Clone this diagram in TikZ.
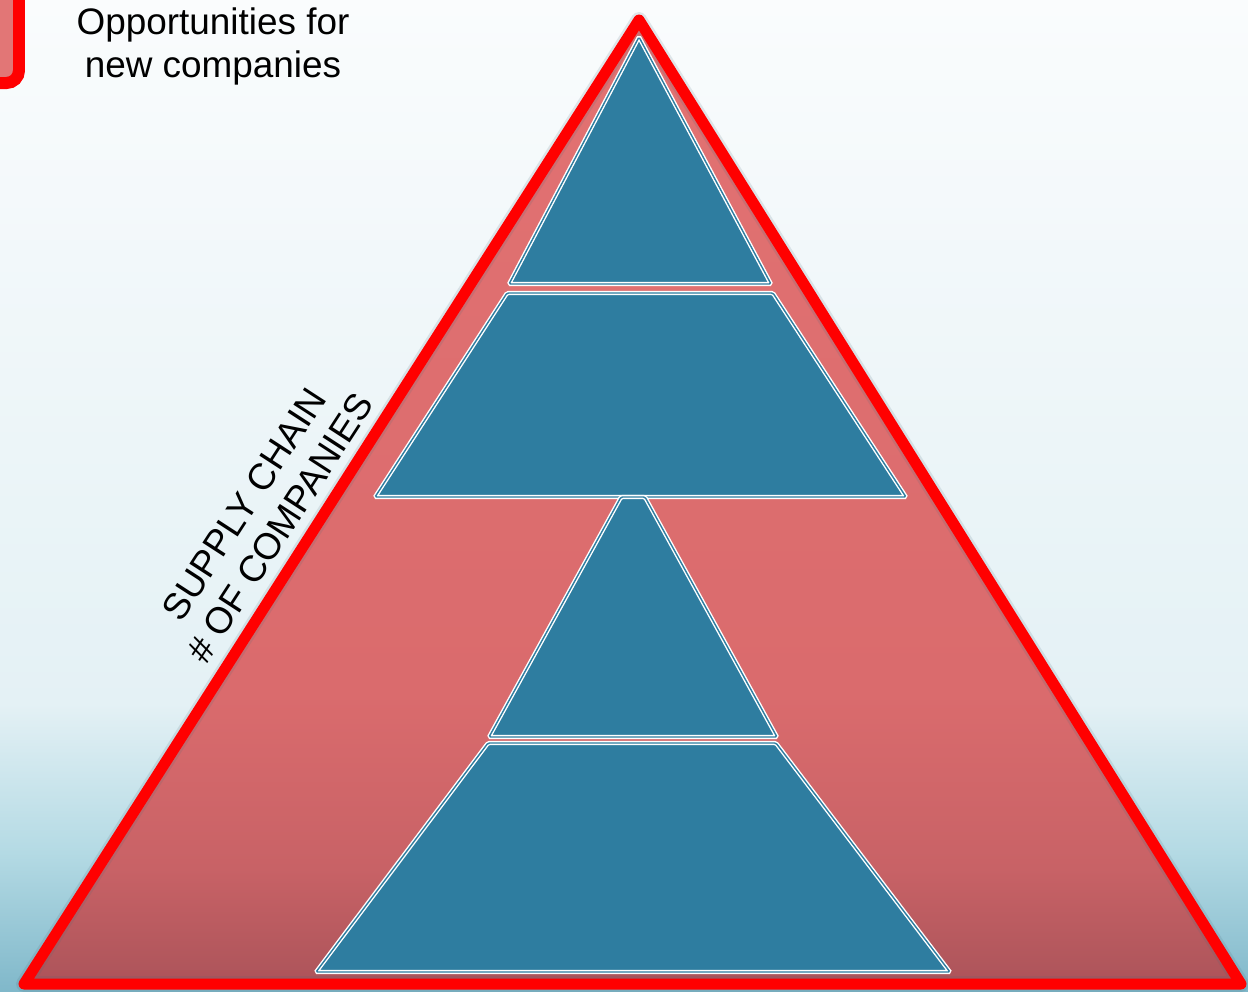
\documentclass[tikz,border=0pt]{standalone}
\usepackage{fontspec}
\setmainfont{Liberation Sans}

\definecolor{tierblue}{RGB}{46,125,160}
\definecolor{edgered}{RGB}{255,0,0}
\definecolor{legendfill}{RGB}{226,118,118}
\definecolor{bgbot}{RGB}{128,184,202}
\definecolor{bglow}{RGB}{180,218,228}
\definecolor{bgmid}{RGB}{228,241,245}
\definecolor{bgtop}{RGB}{250,252,253}
\definecolor{redbot}{RGB}{172,84,90}
\definecolor{redlow}{RGB}{200,98,102}
\definecolor{redmid}{RGB}{218,107,109}
\definecolor{redtop}{RGB}{226,114,114}

% tikz maps 25bp..75bp of a shading onto the path
\pgfdeclareverticalshading{bgshade}{100bp}{color(0bp)=(bgbot); color(25bp)=(bgbot); color(32bp)=(bglow); color(39.5bp)=(bgmid); color(75bp)=(bgtop); color(100bp)=(bgtop)}
\pgfdeclareverticalshading{redshade}{100bp}{color(0bp)=(redbot); color(25bp)=(redbot); color(31bp)=(redlow); color(40bp)=(redmid); color(75bp)=(redtop); color(100bp)=(redtop)}

\tikzset{
  tier/.style={fill=tierblue, draw=white, double=tierblue, line width=0.8pt,
    double distance=0.8pt, rounded corners=0.8pt},
  bigtext/.style={font=\fontsize{21}{24.5}\selectfont, align=center, text=black},
}

\begin{document}
\begin{tikzpicture}[x=0.02cm, y=-0.02cm]
  \useasboundingbox (0,0) rectangle (1248,991);
  \clip (0,0) rectangle (1248,991);
  \shade [shading=bgshade] (0,0) rectangle (1248,991);

  % the big pyramid
  \shade [shading=redshade] (639,20) -- (24,984) -- (1241,984) -- cycle;
  \draw [black!60!cyan, opacity=0.15, line width=0.32cm, line join=round] (639,20) -- (24,984) -- (1241,984) -- cycle;
  \draw [edgered, line width=0.22cm, line join=round] (639,20) -- (24,984) -- (1241,984) -- cycle;

  % tiers inside
  \draw [tier] (639,37) -- (509,284) -- (771,284) -- cycle;
  \draw [tier] (507,293) -- (773,293) -- (906,497) -- (375,497) -- cycle;
  \draw [tier] (621,497) -- (645,497) -- (777,737) -- (489,737) -- cycle;
  \draw [tier] (488,743) -- (776,743) -- (950,972) -- (316,972) -- cycle;

  % legend
  \draw [edgered, line width=0.24cm, fill=legendfill, rounded corners=0.25cm] (-40,-40) rectangle (19,83);
  \node [bigtext] (legend) at (213,46) {Opportunities for\\new companies};

  \node [bigtext, rotate=57] (chainlabel) at (262,516) {SUPPLY CHAIN\\\# OF COMPANIES};
\end{tikzpicture}
\end{document}
